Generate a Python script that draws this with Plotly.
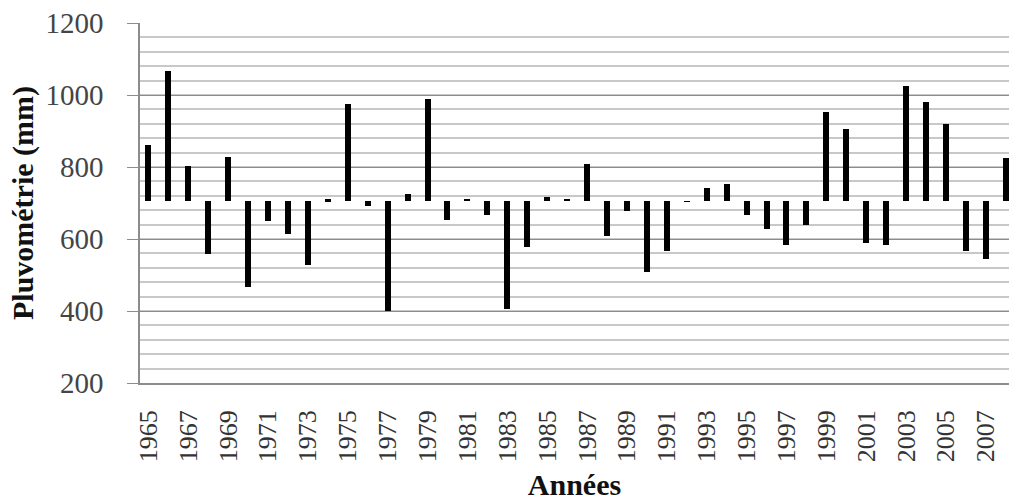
import plotly.graph_objects as go

years = list(range(1965, 2009))
rainfall = [862, 1067, 804, 559, 829, 467, 651, 614, 529, 710,
            975, 691, 399, 726, 989, 652, 711, 666, 405, 578,
            718, 711, 808, 609, 677, 508, 566, 703, 743, 754,
            666, 629, 584, 638, 953, 906, 590, 584, 1026, 981,
            920, 568, 544, 825]
baseline = 705
tick_years = list(range(1965, 2009, 2))
y_ticks = [200, 400, 600, 800, 1000, 1200]

fig = go.Figure()
fig.add_trace(go.Bar(
    x=years,
    y=[v - baseline for v in rainfall],
    base=baseline,
    width=0.3,
    marker=dict(color="black", line=dict(width=0)),
    showlegend=False,
))

fig.update_layout(
    width=1009, height=501,
    margin=dict(l=140, r=0, t=23, b=118),
    paper_bgcolor="white", plot_bgcolor="white",
    font=dict(family="Liberation Serif", color="#333333"),
    bargap=0,
)
fig.update_xaxes(
    automargin=False,
    range=[1964.58, 2008.16],
    tickmode="array", tickvals=tick_years,
    ticktext=[str(y) for y in tick_years],
    tickangle=-90,
    tickfont=dict(family="Liberation Serif", size=26, color="#333333"),
    ticklabeloverflow="allow",
    showgrid=False, zeroline=False,
    showline=True, linecolor="#8c8c8c", linewidth=1.5,
    ticks="", ticklabelstandoff=15,
    title=dict(text="<b>Années</b>", standoff=14,
               font=dict(family="Liberation Serif", size=30, color="#111111")),
)
fig.update_yaxes(
    automargin=False,
    range=[200, 1200],
    tickmode="array", tickvals=y_ticks,
    tickfont=dict(family="Liberation Serif", size=29, color="#444444"),
    ticklabeloverflow="allow",
    showgrid=True, gridcolor="#8c8c8c", gridwidth=1.2,
    minor=dict(dtick=40, showgrid=True, gridcolor="#c8c8c8", gridwidth=1.5),
    zeroline=False,
    showline=True, linecolor="#8c8c8c", linewidth=1.5,
    ticks="outside", ticklen=11, tickcolor="#8c8c8c", tickwidth=1.2,
    ticklabelstandoff=18,
    title=dict(text="<b>Pluvométrie (mm)</b>", standoff=3,
               font=dict(family="Liberation Serif", size=30, color="#111111")),
)

fig.write_html(
    "out.html",
    config={"displayModeBar": False},
    post_script="document.body.style.margin='0';document.body.style.overflow='hidden';",
)
